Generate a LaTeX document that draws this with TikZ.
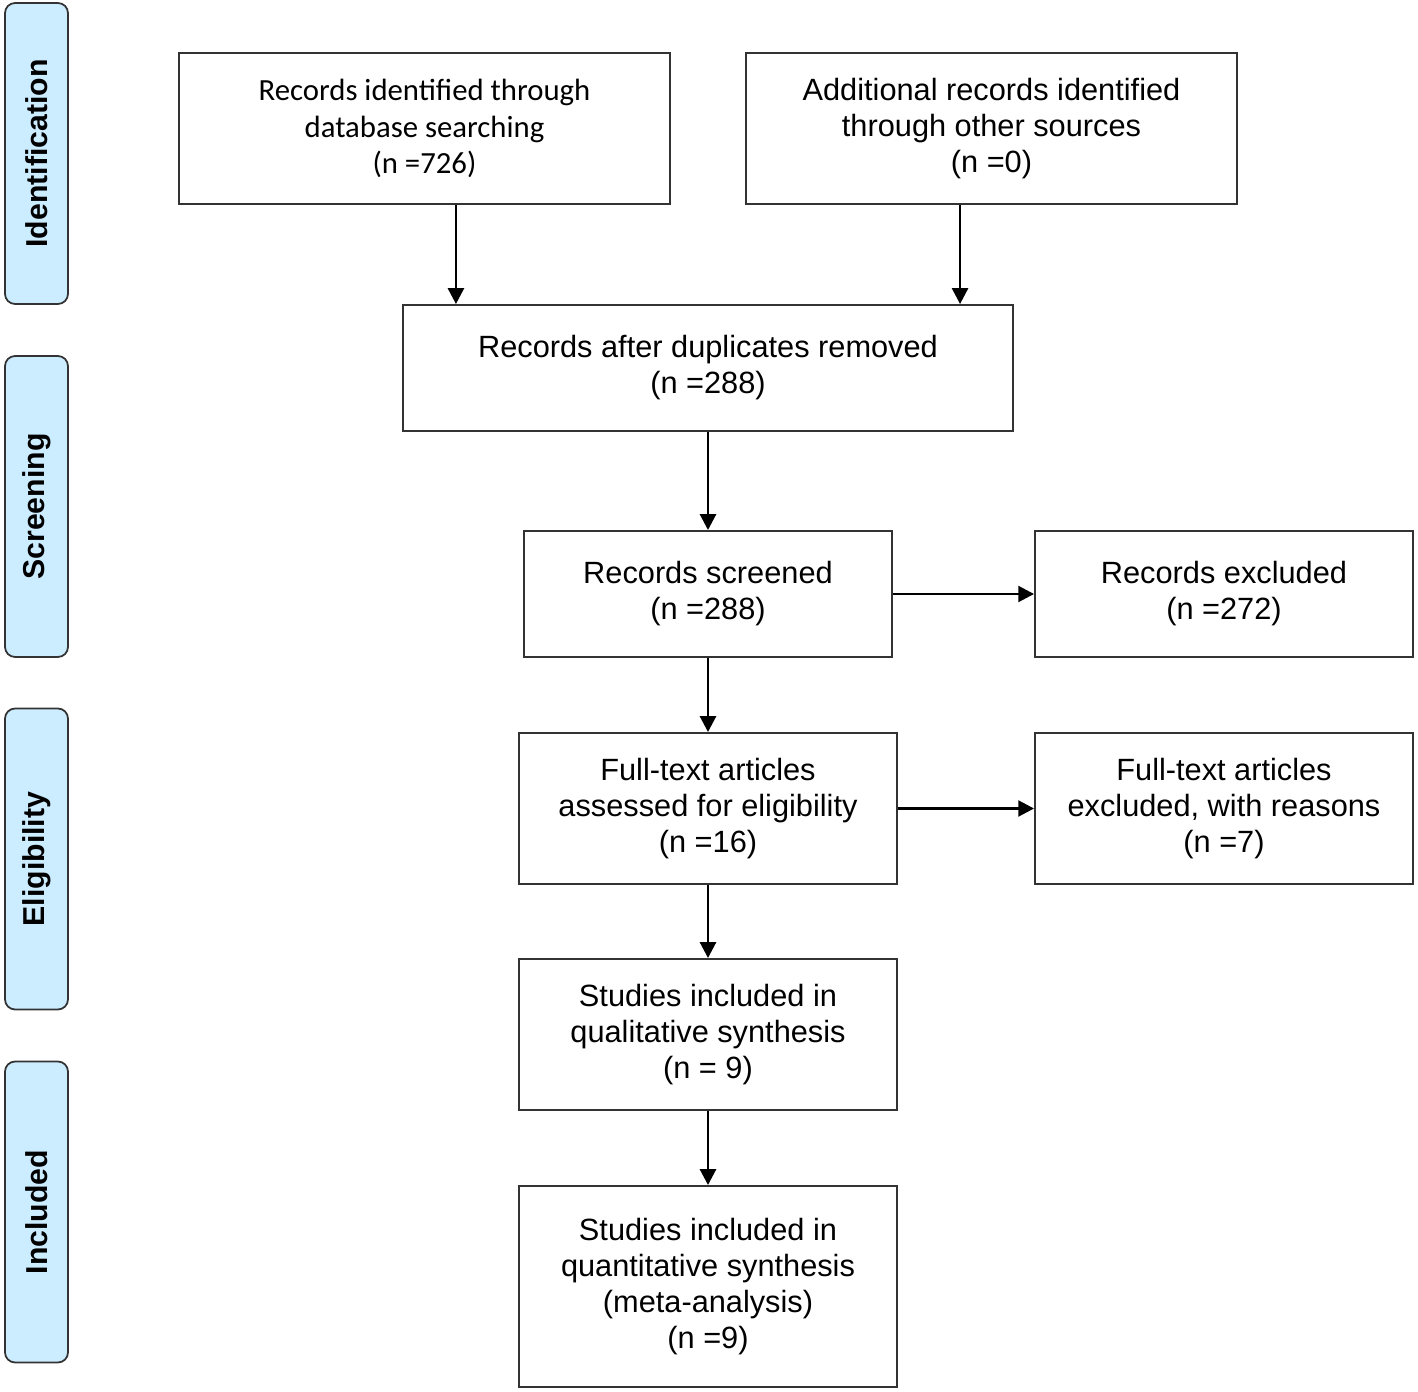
\documentclass[tikz,border=0pt]{standalone}
\usepackage{fontspec}
\setmainfont{Liberation Sans}
\newfontfamily\calibri{Carlito}
\usetikzlibrary{arrows.meta,positioning,calc}

\tikzset{
  flowbox/.style={draw=black!80, line width=1.1pt, align=center, inner sep=0pt,
    font=\fontsize{17.5}{20.5}\selectfont},
  phase/.style={draw=black!80, line width=1pt, fill=phaseblue, rounded corners=5.7pt,
    rotate=90, minimum width=6.02cm, minimum height=1.26cm, inner sep=0pt,
    font=\fontsize{17.2}{20}\selectfont\bfseries},
  arr/.style={line width=1.6pt, -{Triangle[length=9pt,width=9pt]}}
}
\definecolor{phaseblue}{RGB}{204,236,255}

\begin{document}
\begin{tikzpicture}[x=0.02cm, y=-0.02cm]
			\useasboundingbox (0,0) rectangle (1418,1392);
			
			% Phases
			\node[phase] (ident) at (36.5,153.5) {Identification};
			\node[phase] (screen) at (36.5,506.5) {Screening};
			\node[phase] (elig) at (36.5,859) {Eligibility};
			\node[phase] (incl) at (36.5,1212) {Included};
			
			% Identification
			\node[flowbox, minimum width=9.82cm, minimum height=3.02cm,
				font=\fontsize{17.5}{21}\calibri] (rec1) at (424.5,128.5)
				{Records identified through\\database searching\\(n =726)};
			\node[flowbox, minimum width=9.82cm, minimum height=3.02cm] (rec2) at (991.5,128.5)
				{Additional records identified\\through other sources\\(n =0)};
			
			% Screening
			\node[flowbox, minimum width=12.2cm, minimum height=2.52cm] (dup) at (708,368)
				{Records after duplicates removed\\(n =288)};
			\node[flowbox, minimum width=7.36cm, minimum height=2.52cm] (scr) at (708,594)
				{Records screened\\(n =288)};
			\node[flowbox, minimum width=7.56cm, minimum height=2.52cm] (excl) at (1224,594)
				{Records excluded\\(n =272)};
			
			% Eligibility
			\node[flowbox, minimum width=7.56cm, minimum height=3.02cm] (full) at (708,808.5)
				{Full-text articles\\assessed for eligibility\\(n =16)};
			\node[flowbox, minimum width=7.56cm, minimum height=3.02cm] (fexcl) at (1224,808.5)
				{Full-text articles\\excluded, with reasons\\(n =7)};
			
			% Included
			\node[flowbox, minimum width=7.56cm, minimum height=3.02cm] (qual) at (708,1034.5)
				{Studies included in\\qualitative synthesis\\(n = 9)};
			\node[flowbox, minimum width=7.56cm, minimum height=4.02cm] (quant) at (708,1286.5)
				{Studies included in\\quantitative synthesis\\(meta-analysis)\\(n =9)};
			
			% Arrows
			\draw[arr] ([xshift=17.9pt]rec1.south) -- ([xshift=17.9pt]rec1.south |- dup.north);
			\draw[arr] ([xshift=-17.9pt]rec2.south) -- ([xshift=-17.9pt]rec2.south |- dup.north);
			\draw[arr] (dup) -- (scr);
			\draw[arr] (scr) -- (excl);
			\draw[arr] (scr) -- (full);
			\draw[arr] (full) -- (fexcl);
			\draw[arr] (full) -- (qual);
			\draw[arr] (qual) -- (quant);
		\end{tikzpicture}
\end{document}
